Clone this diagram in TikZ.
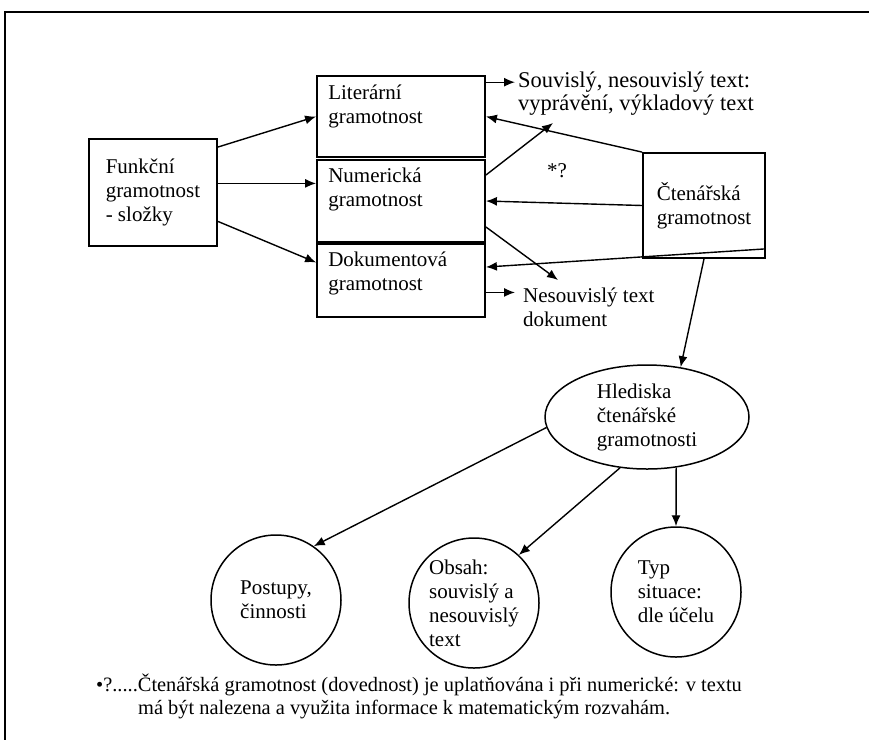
\documentclass[tikz,border=0pt]{standalone}
\usepackage{fontspec}
\setmainfont{Liberation Serif}
\usepackage{tikz}
\usetikzlibrary{arrows.meta, shapes.geometric, positioning}

\newcommand{\velke}{\fontsize{21}{24}\selectfont}
\newcommand{\male}{\fontsize{20.4}{23}\selectfont}

\begin{document}
\begin{tikzpicture}[x=1pt, y=-1pt, >={Latex[length=11pt, width=9pt]},
    box/.style={draw, line width=1.8pt, inner sep=0pt, font=\velke, align=left},
    txt/.style={inner sep=0pt, font=\velke, align=left},
    kruh/.style={draw, circle, line width=1.5pt, minimum size=130pt, inner sep=0pt, font=\velke, align=left},
    sip/.style={->, line width=1.4pt}]
    % 0. Rámeček
    \useasboundingbox (0,0) rectangle (869,740);
    \draw[line width=2.5pt] (869,12) -- (5,12) -- (5,740);

    % 1. Funkční gramotnost a její složky
    \node[box, minimum width=128pt, minimum height=107pt] (fun) at (153,192.5) {Funkční\\gramotnost\\- složky};
    \node[box, minimum width=168pt, minimum height=81pt] (lit) at (401,116.5) {};
    \node[box, minimum width=168pt, minimum height=82pt] (num) at (401,201) {};
    \node[box, minimum width=168pt, minimum height=73pt] (dok) at (401,280.5) {};
    \foreach \n/\t/\dy in {lit/Literární/10, num/Numerická/9, dok/Dokumentová/9} {
        \node[txt, anchor=north west] (\n-t) at ([shift={(12,\dy)}]\n.north west) {\t\\gramotnost};
    }

    % 2. Čtenářská gramotnost
    \node[box, minimum width=122pt, minimum height=105pt] (cte) at (704,205.5) {Čtenářská\\gramotnost};

    % 3. Texty u šipek
    \node[txt, anchor=north west, font=\fontsize{22.5}{23}\selectfont] (sou) at (518,72) {Souvislý, nesouvislý text:\\vyprávění, výkladový text};
    \node[txt, anchor=north west] (nes) at (523,288) {Nesouvislý text\\dokument};
    \node[txt] (otaz) at (557,171) {*?};
    \coordinate (souP) at (553,123);
    \coordinate (nesP) at (558,280);

    % 4. Hlediska a jejich kruhy
    \node[draw, ellipse, line width=1.5pt, minimum width=204pt, minimum height=104pt, inner sep=0pt, font=\velke, align=left] (hle) at (647,417) {Hlediska\\čtenářské\\gramotnosti};
    \node[kruh] (pos) at (276,600) {Postupy,\\činnosti};
    \node[kruh] (obs) at (474,603) {Obsah:\\souvislý a\\nesouvislý\\text};
    \node[kruh] (typ) at (676,592) {Typ\\situace:\\dle účelu};

    % 5. Šipky
    \draw[sip] (fun.35) -- (lit.west);
    \draw[sip] (fun.8) -- (fun.8 -| num.west);
    \draw[sip] (fun.-24) -- (dok.168);
    \draw[sip, shorten >=3pt] (lit.22) -- (lit.22 -| sou.west);
    \draw[sip] (num.17) -- (souP);
    \draw[sip] (num.-17) -- (nesP);
    \draw[sip, shorten >=8pt] (dok.-8) -- (dok.-8 -| nes.west);
    \draw[sip] (cte.north west) -- (lit.east);
    \draw[sip] (cte.west) -- (num.east);
    \draw[sip] (cte.-35) -- (dok.9);
    \draw[sip] (cte.south) -- (hle.56);
    \draw[sip] (hle.186) -- (pos.55);
    \draw[sip] (hle.242) -- (obs.47);
    \draw[sip] (hle.300) -- (typ.north);

    % 6. Poznámka
    \node[txt, anchor=north west, font=\male] (pozn) at (96,674) {•?.....Čtenářská gramotnost (dovednost) je uplatňována i při numerické: v textu\\\hspace*{42pt}má být nalezena a využita informace k matematickým rozvahám.};
\end{tikzpicture}
\end{document}
